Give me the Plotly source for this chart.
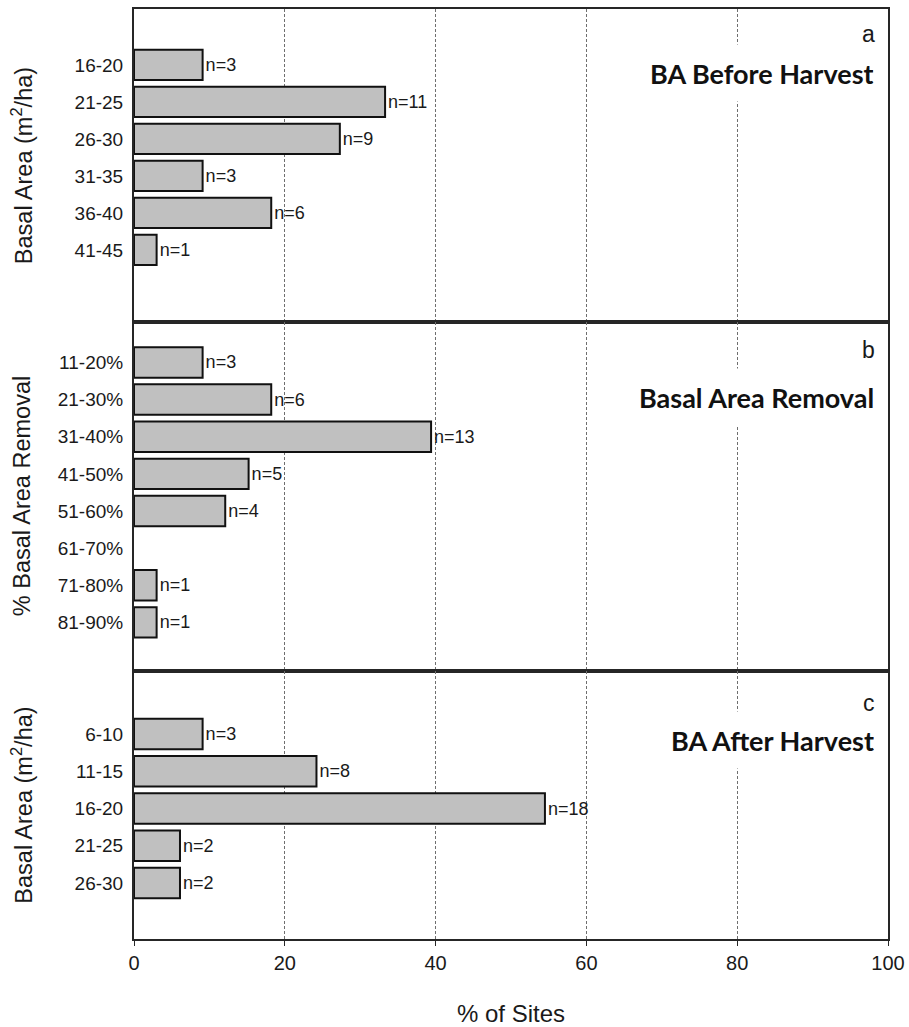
import plotly.graph_objects as go
from plotly.subplots import make_subplots

# Panel a: basal area before harvest
cats_a = ["16-20", "21-25", "26-30", "31-35", "36-40", "41-45"]
n_a = [3, 11, 9, 3, 6, 1]
pct_a = [9.1, 33.3, 27.3, 9.1, 18.2, 3.0]

# Panel b: % basal area removal
cats_b = ["11-20%", "21-30%", "31-40%", "41-50%", "51-60%", "61-70%", "71-80%", "81-90%"]
n_b = [3, 6, 13, 5, 4, 0, 1, 1]
pct_b = [9.1, 18.2, 39.4, 15.2, 12.1, 0.0, 3.0, 3.0]

# Panel c: basal area after harvest
cats_c = ["6-10", "11-15", "16-20", "21-25", "26-30"]
n_c = [3, 8, 18, 2, 2]
pct_c = [9.1, 24.2, 54.5, 6.1, 6.1]

x_ticks = [0, 20, 40, 60, 80, 100]
panel_letters = ["a", "b", "c"]
panel_titles = ["BA Before Harvest", "Basal Area Removal", "BA After Harvest"]
y_titles = ["Basal Area (m<sup>2</sup>/ha)", "% Basal Area Removal", "Basal Area (m<sup>2</sup>/ha)"]

W, H = 909, 1027
ML, MR, MT, MB = 134, 21, 9, 88
plot_h = H - MT - MB
# panel pixel boundaries (top->bottom): 9, 322, 671, 939
b1 = (939 - 671) / plot_h
b2 = (939 - 322) / plot_h

fig = make_subplots(rows=3, cols=1, shared_xaxes=True, vertical_spacing=0)

FONT = "Liberation Sans, Arial, sans-serif"
TXT = "#1a1a1a"
panels = [(cats_a, n_a, pct_a), (cats_b, n_b, pct_b), (cats_c, n_c, pct_c)]
for i, (cats, ns, pcts) in enumerate(panels):
    labels = [f"n={n}" if n > 0 else "" for n in ns]
    lw = [2 if n > 0 else 0 for n in ns]
    fig.add_trace(go.Bar(
        y=cats, x=pcts, orientation="h", width=0.82,
        marker=dict(color="#c0c0c0", line=dict(color="#111111", width=lw)),
        text=labels, textposition="outside", constraintext="none",
        textfont=dict(family=FONT, size=18, color=TXT),
        cliponaxis=False, showlegend=False,
    ), row=i + 1, col=1)

domains = [[b2, 1.0], [b1, b2], [0.0, b1]]
yranges = [[6.95, -1.51], [8.31, -1.09], [5.5, -1.69]]
for i in range(3):
    yk = "yaxis" if i == 0 else f"yaxis{i+1}"
    xk = "xaxis" if i == 0 else f"xaxis{i+1}"
    fig.layout[yk].update(
        domain=domains[i], range=yranges[i], type="category",
        showline=True, mirror=True, linecolor="#262626", linewidth=2,
        showgrid=False, ticks="", ticklabelstandoff=5,
        tickfont=dict(family=FONT, size=19, color=TXT),
    )
    fig.layout[xk].update(
        range=[0, 100], tickvals=x_ticks,
        showgrid=True, gridcolor="#6e6e6e", gridwidth=1, griddash="3px,2px",
        showline=True, mirror=True, linecolor="#262626", linewidth=2,
        zeroline=False,
        showticklabels=(i == 2), ticks="outside" if i == 2 else "",
        ticklen=5, tickcolor="#262626", tickwidth=1,
        tickfont=dict(family=FONT, size=20, color=TXT),
    )

fig.layout.xaxis3.title = dict(text="% of Sites", font=dict(family=FONT, size=24, color=TXT), standoff=32)

letter_y = [0.920, 0.920, 0.881]
title_y = [0.7955, 0.785, 0.743]
for i in range(3):
    yd = "y domain" if i == 0 else f"y{i+1} domain"
    fig.add_annotation(text="<b>" + panel_titles[i] + "</b>", xref="paper", yref=yd,
                       x=0.983, y=title_y[i], xanchor="right", yanchor="middle",
                       showarrow=False, bgcolor="white", height=56, borderpad=0,
                       font=dict(family="Lato, sans-serif", size=27, color="#111111"))
    fig.add_annotation(text=panel_letters[i], xref="paper", yref=yd, x=0.985, y=letter_y[i],
                       xanchor="right", yanchor="middle", showarrow=False,
                       font=dict(family=FONT, size=23, color=TXT))
    fig.add_annotation(text=y_titles[i], xref="paper", yref=yd, x=-0.149, y=0.5,
                       xanchor="center", yanchor="middle", textangle=-90, showarrow=False,
                       font=dict(family=FONT, size=23.5, color=TXT))

fig.update_layout(
    width=W, height=H, margin=dict(l=ML, r=MR, t=MT, b=MB, autoexpand=False),
    paper_bgcolor="white", plot_bgcolor="white", bargap=0.2,
)
fig.write_html("out.html", config={"displayModeBar": False},
               post_script="document.body.style.margin='0px';")
